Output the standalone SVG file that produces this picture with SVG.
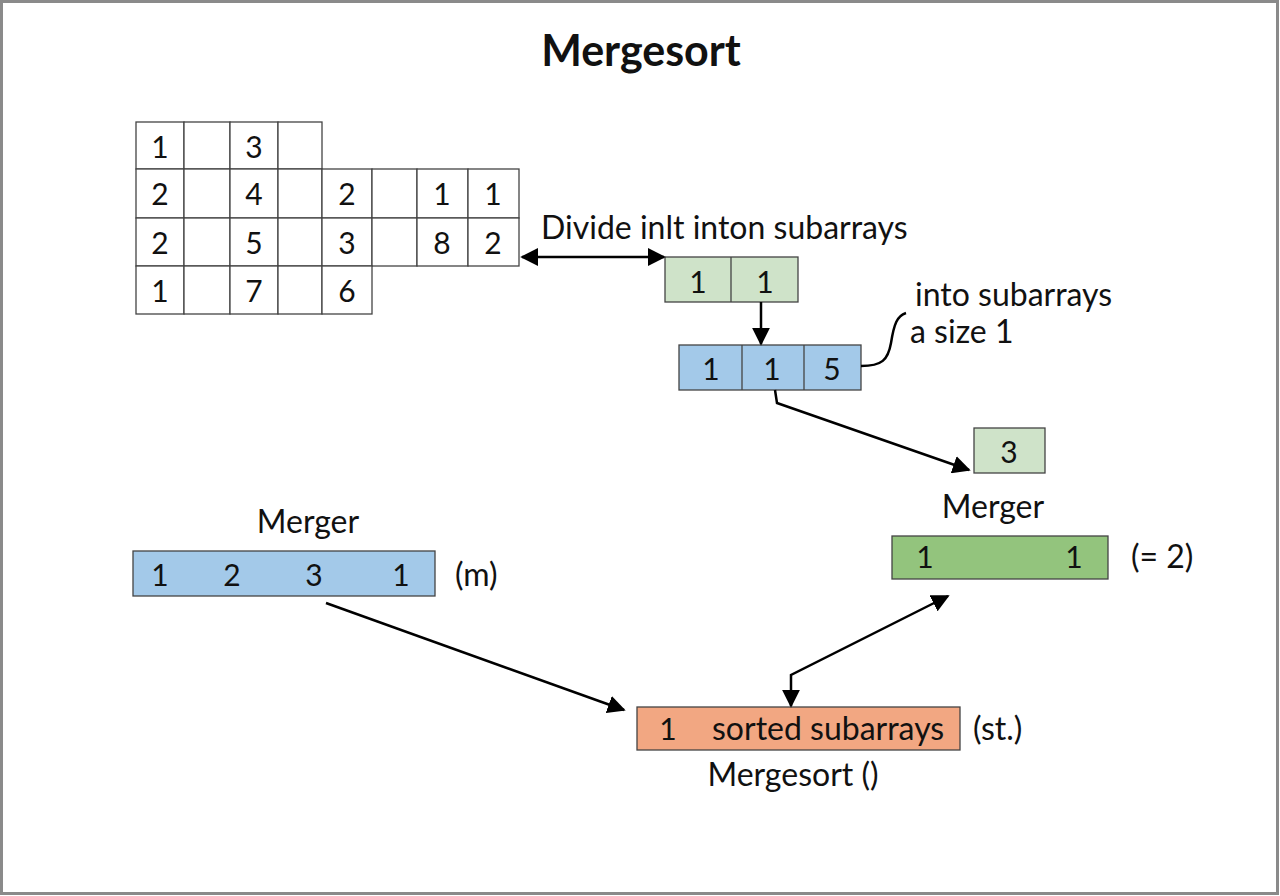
<svg xmlns="http://www.w3.org/2000/svg" width="1280" height="896" viewBox="0 0 1280 896">
<defs>
<marker id="ah" viewBox="0 0 10 10" refX="9" refY="5" markerWidth="18" markerHeight="18" markerUnits="userSpaceOnUse" orient="auto-start-reverse">
<path d="M0,0 L10,5 L0,10 z" fill="#000"/>
</marker>
<style>
text{font-family:Lato,"Open Sans","Liberation Sans",sans-serif;fill:#111;}
.d{font-size:30px;text-anchor:middle;}
.l{font-size:32px;}
.c{stroke:#444;stroke-width:1.3;fill:#fff;}
.g{fill:#cfe3c9;stroke:#444;stroke-width:1.3;}
.b{fill:#a3c9e9;stroke:#444;stroke-width:1.3;}
.dg{fill:#93c47d;stroke:#444;stroke-width:1.3;}
.o{fill:#f2a782;stroke:#444;stroke-width:1.3;}
.sep{stroke:#444;stroke-width:1.3;}
.conn{stroke:#000;stroke-width:2.5;fill:none;}
</style>
</defs>
<rect x="0" y="0" width="1280" height="896" fill="#fff"/>
<rect x="1.5" y="1.5" width="1276" height="892" fill="none" stroke="#8a8a8a" stroke-width="3"/>
<text x="641" y="66" style="font-size:43px;font-weight:bold;text-anchor:middle">Mergesort</text>

<g id="grid">
<rect class="c" x="136" y="122" width="48" height="47"/><rect class="c" x="184" y="122" width="46" height="47"/><rect class="c" x="230" y="122" width="48" height="47"/><rect class="c" x="278" y="122" width="44" height="47"/>
<rect class="c" x="136" y="169" width="48" height="49"/><rect class="c" x="184" y="169" width="46" height="49"/><rect class="c" x="230" y="169" width="48" height="49"/><rect class="c" x="278" y="169" width="44" height="49"/><rect class="c" x="322" y="169" width="50" height="49"/><rect class="c" x="372" y="169" width="45" height="49"/><rect class="c" x="417" y="169" width="51" height="49"/><rect class="c" x="468" y="169" width="51" height="49"/>
<rect class="c" x="136" y="218" width="48" height="48"/><rect class="c" x="184" y="218" width="46" height="48"/><rect class="c" x="230" y="218" width="48" height="48"/><rect class="c" x="278" y="218" width="44" height="48"/><rect class="c" x="322" y="218" width="50" height="48"/><rect class="c" x="372" y="218" width="45" height="48"/><rect class="c" x="417" y="218" width="51" height="48"/><rect class="c" x="468" y="218" width="51" height="48"/>
<rect class="c" x="136" y="266" width="48" height="48"/><rect class="c" x="184" y="266" width="46" height="48"/><rect class="c" x="230" y="266" width="48" height="48"/><rect class="c" x="278" y="266" width="44" height="48"/><rect class="c" x="322" y="266" width="50" height="48"/>
<text class="d" x="160" y="158">1</text><text class="d" x="254" y="158">3</text>
<text class="d" x="160" y="205">2</text><text class="d" x="254" y="205">4</text><text class="d" x="347" y="205">2</text><text class="d" x="442" y="205">1</text><text class="d" x="493" y="205">1</text>
<text class="d" x="160" y="254">2</text><text class="d" x="254" y="254">5</text><text class="d" x="347" y="254">3</text><text class="d" x="442" y="254">8</text><text class="d" x="493" y="254">2</text>
<text class="d" x="160" y="302">1</text><text class="d" x="254" y="302">7</text><text class="d" x="347" y="302">6</text>
</g>

<g id="label-divide"><text class="l" x="541" y="239">Divide inlt inton subarrays</text></g>

<g id="pair">
<rect class="g" x="665" y="257" width="133" height="45"/>
<line class="sep" x1="731" y1="257" x2="731" y2="302"/>
<text class="d" x="698" y="293">1</text><text class="d" x="765" y="293">1</text>
</g>

<g id="triple">
<rect class="b" x="679" y="345" width="182" height="45"/>
<line class="sep" x1="742" y1="345" x2="742" y2="390"/><line class="sep" x1="804" y1="345" x2="804" y2="390"/>
<text class="d" x="711" y="380">1</text><text class="d" x="772" y="380">1</text><text class="d" x="832" y="380">5</text>
</g>

<g id="label-size"><text class="l" x="915" y="306">into subarrays</text><text class="l" x="910" y="343">a size 1</text></g>

<g id="three">
<rect class="g" x="974" y="428" width="71" height="45"/>
<text class="d" x="1009" y="463">3</text>
</g>

<g id="merger-right">
<text class="l" x="993" y="518" text-anchor="middle">Merger</text>
<rect class="dg" x="892" y="536" width="216" height="43"/>
<text class="d" x="925" y="568">1</text><text class="d" x="1074" y="568">1</text>
<text class="l" x="1131" y="568">(= 2)</text>
</g>

<g id="merger-left">
<text class="l" x="308" y="533" text-anchor="middle">Merger</text>
<rect class="b" x="133" y="551" width="302" height="45"/>
<text class="d" x="160" y="586">1</text><text class="d" x="232" y="586">2</text><text class="d" x="314" y="586">3</text><text class="d" x="401" y="586">1</text>
<text class="l" x="455" y="586">(m)</text>
</g>

<g id="sorted">
<rect class="o" x="637" y="707" width="323" height="43"/>
<text class="d" x="668" y="740">1</text>
<text class="l" x="712" y="740">sorted subarrays</text>
<text class="l" x="973" y="740">(st.)</text>
<text class="l" x="793" y="786" text-anchor="middle">Mergesort ()</text>
</g>

<g id="connectors">
<line class="conn" x1="522" y1="257" x2="664" y2="257" marker-start="url(#ah)" marker-end="url(#ah)"/>
<line class="conn" x1="761" y1="302" x2="761" y2="344" marker-end="url(#ah)"/>
<path class="conn" d="M861,366 C882,366 888,360 891,343 C894,324 897,316 906,313" stroke-width="2"/>
<polyline class="conn" points="775,390 777,403 969,470" marker-end="url(#ah)"/>
<line class="conn" x1="326" y1="603" x2="624" y2="710" marker-end="url(#ah)"/>
<polyline class="conn" points="791,706 791,675 948,596" marker-start="url(#ah)" marker-end="url(#ah)"/>
</g>
</svg>
